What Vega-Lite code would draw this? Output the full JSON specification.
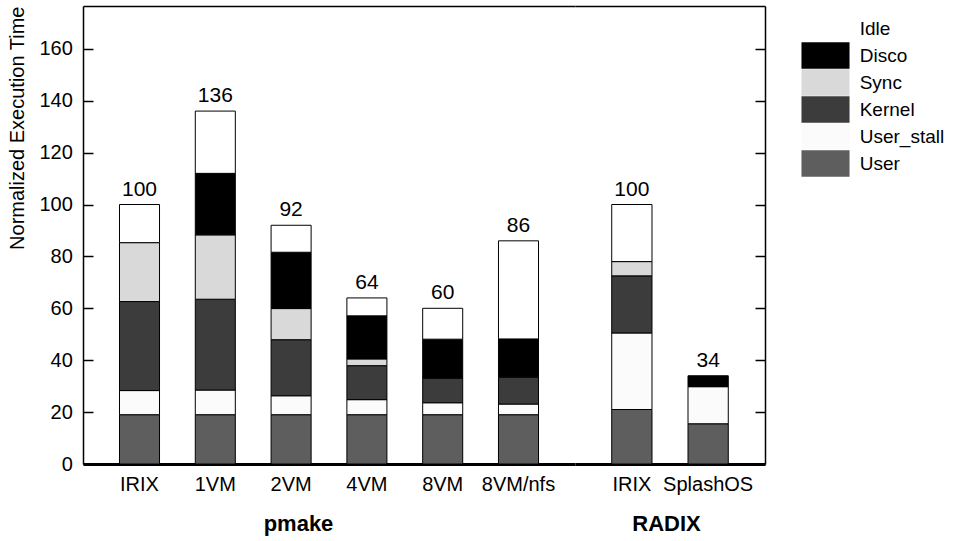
{
  "$schema": "https://vega.github.io/schema/vega-lite/v6.json",
  "padding": {"left": 7, "top": 5, "right": 5, "bottom": 5},
  "spacing": 0,
  "datasets": {
    "runs": [
      {"group": "pmake", "config": "IRIX", "category": "User", "value": 19},
      {"group": "pmake", "config": "IRIX", "category": "User_stall", "value": 9.3},
      {"group": "pmake", "config": "IRIX", "category": "Kernel", "value": 34.3},
      {"group": "pmake", "config": "IRIX", "category": "Sync", "value": 22.7},
      {"group": "pmake", "config": "IRIX", "category": "Idle", "value": 14.7},
      {"group": "pmake", "config": "1VM", "category": "User", "value": 19},
      {"group": "pmake", "config": "1VM", "category": "User_stall", "value": 9.5},
      {"group": "pmake", "config": "1VM", "category": "Kernel", "value": 35},
      {"group": "pmake", "config": "1VM", "category": "Sync", "value": 24.8},
      {"group": "pmake", "config": "1VM", "category": "Disco", "value": 23.7},
      {"group": "pmake", "config": "1VM", "category": "Idle", "value": 24},
      {"group": "pmake", "config": "2VM", "category": "User", "value": 19},
      {"group": "pmake", "config": "2VM", "category": "User_stall", "value": 7.3},
      {"group": "pmake", "config": "2VM", "category": "Kernel", "value": 21.6},
      {"group": "pmake", "config": "2VM", "category": "Sync", "value": 12},
      {"group": "pmake", "config": "2VM", "category": "Disco", "value": 21.7},
      {"group": "pmake", "config": "2VM", "category": "Idle", "value": 10.4},
      {"group": "pmake", "config": "4VM", "category": "User", "value": 19},
      {"group": "pmake", "config": "4VM", "category": "User_stall", "value": 5.8},
      {"group": "pmake", "config": "4VM", "category": "Kernel", "value": 13.1},
      {"group": "pmake", "config": "4VM", "category": "Sync", "value": 2.6},
      {"group": "pmake", "config": "4VM", "category": "Disco", "value": 16.6},
      {"group": "pmake", "config": "4VM", "category": "Idle", "value": 6.9},
      {"group": "pmake", "config": "8VM", "category": "User", "value": 19},
      {"group": "pmake", "config": "8VM", "category": "User_stall", "value": 4.6},
      {"group": "pmake", "config": "8VM", "category": "Kernel", "value": 9.5},
      {"group": "pmake", "config": "8VM", "category": "Sync", "value": 0.3},
      {"group": "pmake", "config": "8VM", "category": "Disco", "value": 14.7},
      {"group": "pmake", "config": "8VM", "category": "Idle", "value": 11.9},
      {"group": "pmake", "config": "8VM/nfs", "category": "User", "value": 19},
      {"group": "pmake", "config": "8VM/nfs", "category": "User_stall", "value": 4.1},
      {"group": "pmake", "config": "8VM/nfs", "category": "Kernel", "value": 10.4},
      {"group": "pmake", "config": "8VM/nfs", "category": "Sync", "value": 0.3},
      {"group": "pmake", "config": "8VM/nfs", "category": "Disco", "value": 14.4},
      {"group": "pmake", "config": "8VM/nfs", "category": "Idle", "value": 37.8},
      {"group": "RADIX", "config": "IRIX", "category": "User", "value": 21},
      {"group": "RADIX", "config": "IRIX", "category": "User_stall", "value": 29.5},
      {"group": "RADIX", "config": "IRIX", "category": "Kernel", "value": 22},
      {"group": "RADIX", "config": "IRIX", "category": "Sync", "value": 5.5},
      {"group": "RADIX", "config": "IRIX", "category": "Idle", "value": 22},
      {"group": "RADIX", "config": "SplashOS", "category": "User", "value": 15.5},
      {"group": "RADIX", "config": "SplashOS", "category": "User_stall", "value": 14.3},
      {"group": "RADIX", "config": "SplashOS", "category": "Disco", "value": 4.2}
    ]
  },
  "hconcat": [
    {
      "width": 492,
      "height": 458,
      "data": {"name": "runs"},
      "transform": [{"filter": "datum.group === 'pmake'"}],
      "layer": [
        {
          "mark": {"type": "bar", "stroke": "black", "strokeWidth": 1},
          "transform": [{"calculate": "indexof(['User','User_stall','Kernel','Sync','Disco','Idle'], datum.category)", "as": "stackOrder"}],
          "encoding": {
            "x": {
              "field": "config", "type": "nominal",
              "scale": {"domain": ["IRIX", "1VM", "2VM", "4VM", "8VM", "8VM/nfs"], "paddingInner": 0.472, "paddingOuter": 0.4815},
              "axis": {"orient": "bottom", "title": "pmake", "titleFontSize": 22, "titleFontWeight": "bold", "titleX": 215, "titlePadding": 19, "labelFontSize": 20, "labelAngle": 0, "labelPadding": 10, "ticks": false, "domainWidth": 3}
            },
            "y": {
              "field": "value", "type": "quantitative",
              "scale": {"domain": [0, 176.5], "nice": false},
              "axis": {"title": "Normalized Execution Time", "titleAnchor": "end", "titleFontSize": 20, "titleFontWeight": "normal", "titlePadding": 11, "labelFontSize": 20, "tickSize": -10, "labelPadding": 20.7, "values": [0, 20, 40, 60, 80, 100, 120, 140, 160], "domainWidth": 1.5, "tickWidth": 1.5}
            },
            "color": {
              "field": "category", "type": "nominal",
              "scale": {"domain": ["Idle", "Disco", "Sync", "Kernel", "User_stall", "User"], "range": ["#ffffff", "#000000", "#d9d9d9", "#3c3c3c", "#fbfbfb", "#5e5e5e"]},
              "legend": {"orient": "none", "legendX": 729, "legendY": 9, "title": null, "symbolType": "M-1.8,-1H1.8V1H-1.8Z", "symbolSize": 713, "symbolStrokeWidth": 0, "labelFontSize": 19, "labelOffset": 20.7, "labelLimit": 200, "rowPadding": 0}
            },
            "order": {"field": "stackOrder", "type": "quantitative"}
          }
        },
        {
          "mark": {"type": "text", "fontSize": 21, "dy": -9, "baseline": "alphabetic"},
          "transform": [{"aggregate": [{"op": "sum", "field": "value", "as": "value"}], "groupby": ["config"]}],
          "encoding": {
            "x": {
              "field": "config", "type": "nominal",
              "scale": {"domain": ["IRIX", "1VM", "2VM", "4VM", "8VM", "8VM/nfs"], "paddingInner": 0.472, "paddingOuter": 0.4815},
              "axis": {"orient": "top", "title": null, "labels": false, "ticks": false, "domainWidth": 1.5}
            },
            "y": {
              "field": "value", "type": "quantitative",
              "scale": {"domain": [0, 176.5], "nice": false},
              "axis": {"title": "Normalized Execution Time", "titleAnchor": "end", "titleFontSize": 20, "titleFontWeight": "normal", "titlePadding": 11, "labelFontSize": 20, "tickSize": -10, "labelPadding": 20.7, "values": [0, 20, 40, 60, 80, 100, 120, 140, 160], "domainWidth": 1.5, "tickWidth": 1.5}
            },
            "text": {"field": "value", "type": "quantitative", "format": ".0f"}
          }
        }
      ],
      "resolve": {"axis": {"x": "independent"}}
    },
    {
      "width": 190,
      "height": 458,
      "data": {"name": "runs"},
      "transform": [{"filter": "datum.group === 'RADIX'"}],
      "layer": [
        {
          "mark": {"type": "bar", "stroke": "black", "strokeWidth": 1},
          "transform": [{"calculate": "indexof(['User','User_stall','Kernel','Sync','Disco','Idle'], datum.category)", "as": "stackOrder"}],
          "encoding": {
            "x": {
              "field": "config", "type": "nominal",
              "scale": {"domain": ["IRIX", "SplashOS"], "paddingInner": 0.472, "paddingOuter": 0.4815},
              "axis": {"orient": "bottom", "title": "RADIX", "titleFontSize": 22, "titleFontWeight": "bold", "titleX": 91, "titlePadding": 19, "labelFontSize": 20, "labelAngle": 0, "labelPadding": 10, "ticks": false, "domainWidth": 3}
            },
            "y": {
              "field": "value", "type": "quantitative",
              "scale": {"domain": [0, 176.5], "nice": false},
              "axis": {"orient": "right", "title": null, "labels": false, "tickSize": -10, "values": [0, 20, 40, 60, 80, 100, 120, 140, 160], "domainWidth": 1.5, "tickWidth": 1.5}
            },
            "color": {
              "field": "category", "type": "nominal",
              "scale": {"domain": ["Idle", "Disco", "Sync", "Kernel", "User_stall", "User"], "range": ["#ffffff", "#000000", "#d9d9d9", "#3c3c3c", "#fbfbfb", "#5e5e5e"]},
              "legend": {"orient": "none", "legendX": 729, "legendY": 9, "title": null, "symbolType": "M-1.8,-1H1.8V1H-1.8Z", "symbolSize": 713, "symbolStrokeWidth": 0, "labelFontSize": 19, "labelOffset": 20.7, "labelLimit": 200, "rowPadding": 0}
            },
            "order": {"field": "stackOrder", "type": "quantitative"}
          }
        },
        {
          "mark": {"type": "text", "fontSize": 21, "dy": -9, "baseline": "alphabetic"},
          "transform": [{"aggregate": [{"op": "sum", "field": "value", "as": "value"}], "groupby": ["config"]}],
          "encoding": {
            "x": {
              "field": "config", "type": "nominal",
              "scale": {"domain": ["IRIX", "SplashOS"], "paddingInner": 0.472, "paddingOuter": 0.4815},
              "axis": {"orient": "top", "title": null, "labels": false, "ticks": false, "domainWidth": 1.5}
            },
            "y": {
              "field": "value", "type": "quantitative",
              "scale": {"domain": [0, 176.5], "nice": false},
              "axis": {"orient": "right", "title": null, "labels": false, "tickSize": -10, "values": [0, 20, 40, 60, 80, 100, 120, 140, 160], "domainWidth": 1.5, "tickWidth": 1.5}
            },
            "text": {"field": "value", "type": "quantitative", "format": ".0f"}
          }
        }
      ],
      "resolve": {"axis": {"x": "independent"}}
    }
  ],
  "config": {
    "font": "Liberation Sans",
    "view": {"stroke": null},
    "axis": {"grid": false, "labelColor": "black", "titleColor": "black", "domainColor": "black", "tickColor": "black"},
    "legend": {"labelColor": "black"},
    "text": {"color": "black"}
  }
}
